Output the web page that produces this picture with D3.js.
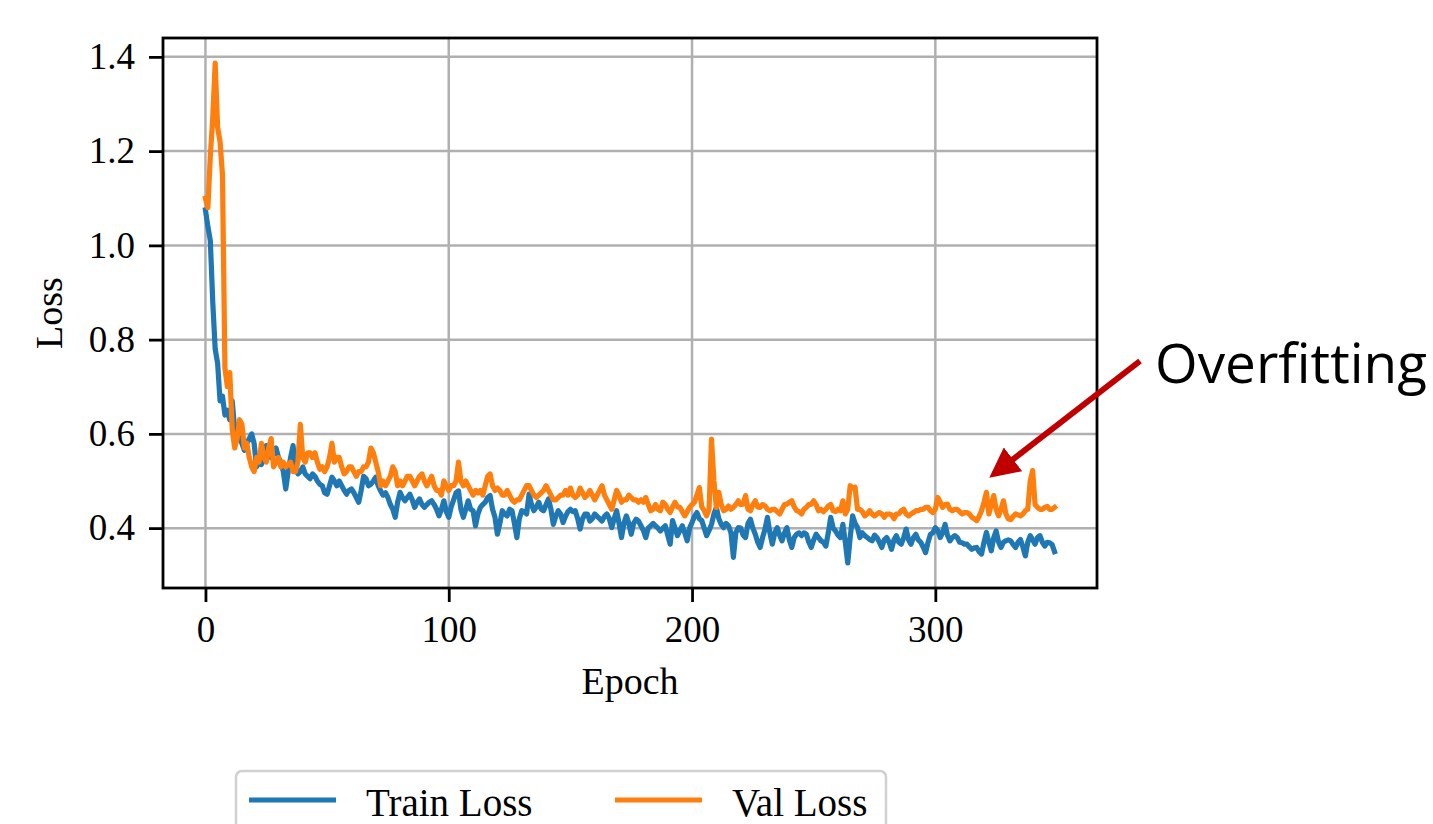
<!DOCTYPE html>
<html>
<head>
<meta charset="utf-8">
<script src="https://cdn.jsdelivr.net/npm/d3@7"></script>
<style>
  body { margin: 0; background: #fff; }
</style>
</head>
<body>
<div id="chart"></div>
<script>
// loss curves, one value per epoch
var trainLoss = [
  1.075, 1.04, 1.01, 0.88, 0.78, 0.75, 0.67, 0.68, 0.64, 0.65,
  0.63, 0.67, 0.61, 0.60, 0.59, 0.58, 0.565, 0.58, 0.59, 0.60,
  0.58, 0.53, 0.54, 0.535, 0.55, 0.575, 0.56, 0.55, 0.56, 0.57,
  0.55, 0.54, 0.52, 0.483, 0.52, 0.55, 0.575, 0.53, 0.515, 0.52,
  0.53, 0.515, 0.51, 0.505, 0.515, 0.51, 0.50, 0.493, 0.49, 0.475,
  0.472, 0.49, 0.508, 0.50, 0.49, 0.50, 0.49, 0.48, 0.472, 0.48,
  0.483, 0.475, 0.465, 0.455, 0.48, 0.51, 0.505, 0.49, 0.493, 0.50,
  0.508, 0.49, 0.479, 0.47, 0.475, 0.465, 0.45, 0.44, 0.423, 0.455,
  0.476, 0.465, 0.458, 0.465, 0.472, 0.46, 0.444, 0.455, 0.462, 0.45,
  0.444, 0.45, 0.455, 0.458, 0.45, 0.44, 0.426, 0.44, 0.458, 0.435,
  0.423, 0.445, 0.46, 0.475, 0.479, 0.44, 0.423, 0.44, 0.458, 0.44,
  0.437, 0.405, 0.43, 0.444, 0.45, 0.455, 0.465, 0.469, 0.44, 0.423,
  0.387, 0.41, 0.437, 0.43, 0.426, 0.44, 0.437, 0.41, 0.38, 0.42,
  0.437, 0.435, 0.43, 0.472, 0.45, 0.437, 0.445, 0.455, 0.44, 0.437,
  0.45, 0.462, 0.44, 0.408, 0.425, 0.437, 0.43, 0.412, 0.425, 0.435,
  0.44, 0.435, 0.437, 0.42, 0.398, 0.42, 0.43, 0.43, 0.415, 0.42,
  0.43, 0.425, 0.42, 0.415, 0.425, 0.43, 0.42, 0.401, 0.42, 0.437,
  0.41, 0.38, 0.41, 0.426, 0.41, 0.387, 0.41, 0.419, 0.415, 0.405,
  0.395, 0.38, 0.40, 0.405, 0.41, 0.405, 0.40, 0.394, 0.40, 0.405,
  0.385, 0.366, 0.416, 0.40, 0.384, 0.395, 0.405, 0.39, 0.373, 0.40,
  0.412, 0.425, 0.433, 0.42, 0.416, 0.40, 0.384, 0.395, 0.408, 0.43,
  0.444, 0.42, 0.408, 0.401, 0.41, 0.405, 0.39, 0.338, 0.39, 0.401,
  0.40, 0.385, 0.38, 0.41, 0.419, 0.40, 0.387, 0.37, 0.359, 0.38,
  0.398, 0.423, 0.39, 0.366, 0.39, 0.401, 0.385, 0.373, 0.39, 0.401,
  0.375, 0.359, 0.38, 0.387, 0.39, 0.384, 0.39, 0.387, 0.37, 0.359,
  0.375, 0.387, 0.38, 0.373, 0.37, 0.362, 0.39, 0.423, 0.40, 0.394,
  0.385, 0.38, 0.408, 0.37, 0.326, 0.38, 0.426, 0.41, 0.401, 0.38,
  0.39, 0.384, 0.38, 0.376, 0.373, 0.385, 0.38, 0.37, 0.359, 0.375,
  0.38, 0.37, 0.355, 0.375, 0.384, 0.37, 0.366, 0.38, 0.398, 0.375,
  0.366, 0.38, 0.387, 0.375, 0.37, 0.36, 0.348, 0.37, 0.387, 0.39,
  0.401, 0.395, 0.38, 0.39, 0.408, 0.385, 0.373, 0.38, 0.384, 0.38,
  0.37, 0.369, 0.366, 0.366, 0.36, 0.355, 0.358, 0.359, 0.35, 0.345,
  0.37, 0.391, 0.37, 0.352, 0.38, 0.394, 0.37, 0.359, 0.37, 0.373,
  0.375, 0.373, 0.365, 0.359, 0.37, 0.376, 0.36, 0.341, 0.37, 0.384,
  0.375, 0.366, 0.38, 0.384, 0.37, 0.362, 0.37, 0.369, 0.365, 0.35
];

var valLoss = [
  1.10, 1.08, 1.19, 1.27, 1.387, 1.25, 1.22, 1.15, 0.74, 0.70,
  0.73, 0.61, 0.57, 0.59, 0.63, 0.62, 0.57, 0.58, 0.55, 0.53,
  0.52, 0.55, 0.54, 0.58, 0.55, 0.54, 0.57, 0.59, 0.53, 0.54,
  0.55, 0.53, 0.54, 0.53, 0.535, 0.54, 0.52, 0.52, 0.54, 0.62,
  0.55, 0.54, 0.56, 0.56, 0.55, 0.56, 0.54, 0.525, 0.53, 0.52,
  0.53, 0.55, 0.58, 0.54, 0.55, 0.55, 0.53, 0.515, 0.52, 0.53,
  0.53, 0.52, 0.51, 0.52, 0.52, 0.53, 0.53, 0.54, 0.57, 0.56,
  0.54, 0.52, 0.49, 0.50, 0.49, 0.50, 0.51, 0.53, 0.52, 0.49,
  0.50, 0.49, 0.50, 0.51, 0.51, 0.50, 0.49, 0.50, 0.51, 0.515,
  0.50, 0.49, 0.50, 0.51, 0.49, 0.48, 0.48, 0.47, 0.50, 0.49,
  0.48, 0.49, 0.49, 0.50, 0.54, 0.50, 0.49, 0.50, 0.49, 0.48,
  0.47, 0.48, 0.475, 0.48, 0.47, 0.49, 0.51, 0.515, 0.49, 0.48,
  0.485, 0.48, 0.47, 0.47, 0.48, 0.47, 0.46, 0.455, 0.46, 0.46,
  0.47, 0.48, 0.49, 0.49, 0.48, 0.47, 0.465, 0.47, 0.475, 0.48,
  0.49, 0.48, 0.47, 0.46, 0.46, 0.465, 0.47, 0.47, 0.48, 0.47,
  0.485, 0.47, 0.465, 0.47, 0.485, 0.475, 0.465, 0.47, 0.48, 0.47,
  0.46, 0.47, 0.48, 0.49, 0.47, 0.46, 0.45, 0.44, 0.46, 0.48,
  0.47, 0.455, 0.46, 0.46, 0.47, 0.465, 0.46, 0.46, 0.455, 0.46,
  0.455, 0.465, 0.45, 0.437, 0.44, 0.45, 0.44, 0.437, 0.455, 0.45,
  0.44, 0.433, 0.445, 0.455, 0.445, 0.444, 0.435, 0.426, 0.435, 0.444,
  0.45, 0.455, 0.47, 0.486, 0.445, 0.437, 0.426, 0.44, 0.589, 0.50,
  0.444, 0.476, 0.45, 0.437, 0.44, 0.447, 0.44, 0.444, 0.45, 0.458,
  0.45, 0.451, 0.469, 0.44, 0.437, 0.45, 0.458, 0.445, 0.444, 0.45,
  0.447, 0.44, 0.437, 0.44, 0.44, 0.435, 0.43, 0.44, 0.45, 0.451,
  0.455, 0.458, 0.445, 0.437, 0.435, 0.43, 0.44, 0.444, 0.45, 0.451,
  0.458, 0.45, 0.437, 0.44, 0.435, 0.44, 0.447, 0.45, 0.437, 0.435,
  0.44, 0.437, 0.458, 0.43, 0.44, 0.49, 0.485, 0.487, 0.44, 0.44,
  0.435, 0.426, 0.43, 0.437, 0.43, 0.426, 0.43, 0.433, 0.43, 0.423,
  0.43, 0.43, 0.428, 0.42, 0.43, 0.43, 0.437, 0.44, 0.43, 0.426,
  0.43, 0.433, 0.437, 0.437, 0.44, 0.44, 0.444, 0.444, 0.437, 0.433,
  0.44, 0.465, 0.455, 0.444, 0.45, 0.451, 0.44, 0.437, 0.44, 0.44,
  0.435, 0.43, 0.433, 0.433, 0.43, 0.423, 0.42, 0.416, 0.425, 0.437,
  0.455, 0.476, 0.43, 0.45, 0.469, 0.44, 0.426, 0.44, 0.458, 0.43,
  0.42, 0.418, 0.425, 0.43, 0.428, 0.426, 0.43, 0.437, 0.44, 0.50,
  0.522, 0.45, 0.444, 0.44, 0.44, 0.444, 0.446, 0.44, 0.44, 0.444
];

var seriesNames = ["Train Loss", "Val Loss"];
var seriesColors = ["#1f77b4", "#ff7f0e"];
var xTicks = [0, 100, 200, 300];
var yTicks = [0.4, 0.6, 0.8, 1.0, 1.2, 1.4];

var width = 1433,
    height = 824,
    plotL = 163, plotR = 1097, plotT = 38, plotB = 588;

var serif = "'Liberation Serif', 'Times New Roman', serif";

var svg = d3.select("#chart").append("svg")
    .attr("width", width)
    .attr("height", height)
    .style("display", "block");

svg.append("rect").attr("width", width).attr("height", height).attr("fill", "#fff");

// matplotlib style 5% margins
var n = trainLoss.length;
var xPad = (n - 1) * 0.05;
var x = d3.scaleLinear()
    .domain([-xPad, n - 1 + xPad])
    .range([plotL, plotR]);

var ext = d3.extent(trainLoss.concat(valLoss));
var yPad = (ext[1] - ext[0]) * 0.05;
var y = d3.scaleLinear()
    .domain([ext[0] - yPad, ext[1] + yPad])
    .range([plotB, plotT]);

// grid
var grid = svg.append("g").attr("class", "grid");
grid.selectAll(".gx").data(xTicks).enter().append("line")
    .attr("x1", function(d){ return x(d); })
    .attr("x2", function(d){ return x(d); })
    .attr("y1", plotT).attr("y2", plotB)
    .attr("stroke", "#b0b0b0").attr("stroke-width", 2.5);
grid.selectAll(".gy").data(yTicks).enter().append("line")
    .attr("x1", plotL).attr("x2", plotR)
    .attr("y1", function(d){ return y(d); })
    .attr("y2", function(d){ return y(d); })
    .attr("stroke", "#b0b0b0").attr("stroke-width", 2.5);

// loss lines
var line = d3.line()
    .x(function(d, i){ return x(i); })
    .y(function(d){ return y(d); });

[trainLoss, valLoss].forEach(function(s, k){
    svg.append("path")
        .datum(s)
        .attr("d", line)
        .attr("fill", "none")
        .attr("stroke", seriesColors[k])
        .attr("stroke-width", 5.2)
        .attr("stroke-linejoin", "round")
        .attr("stroke-linecap", "square");
});

// axes
var xAxis = svg.append("g")
    .attr("transform", "translate(0," + plotB + ")")
    .call(d3.axisBottom(x).tickValues(xTicks).tickSize(14).tickPadding(14).tickSizeOuter(0));
var yAxis = svg.append("g")
    .attr("transform", "translate(" + plotL + ",0)")
    .call(d3.axisLeft(y).tickValues(yTicks).tickFormat(d3.format(".1f")).tickSize(14).tickPadding(14).tickSizeOuter(0));

[xAxis, yAxis].forEach(function(a){
    a.select(".domain").remove();
    a.selectAll(".tick line").attr("stroke", "#000").attr("stroke-width", 2.8);
    a.selectAll(".tick text")
        .attr("fill", "#000")
        .style("font-family", serif)
        .style("font-size", "37px");
});
xAxis.selectAll(".tick text").attr("dy", "0.71em");

// frame
svg.append("rect")
    .attr("x", plotL).attr("y", plotT)
    .attr("width", plotR - plotL).attr("height", plotB - plotT)
    .attr("fill", "none").attr("stroke", "#000").attr("stroke-width", 2.8);

// axis labels
svg.append("text")
    .attr("x", (plotL + plotR) / 2).attr("y", 694)
    .attr("text-anchor", "middle")
    .style("font-family", serif).style("font-size", "38px")
    .text("Epoch");
svg.append("text")
    .attr("transform", "translate(62," + (plotT + plotB) / 2 + ") rotate(-90)")
    .attr("text-anchor", "middle")
    .style("font-family", serif).style("font-size", "38px")
    .text("Loss");

// legend (cut off at the bottom like the reference)
var legend = svg.append("g");
legend.append("rect")
    .attr("x", 236).attr("y", 771)
    .attr("width", 650).attr("height", 90)
    .attr("rx", 6)
    .attr("fill", "#fff").attr("stroke", "#d0d0d0").attr("stroke-width", 2.5);
var legX = [249, 615];
seriesNames.forEach(function(name, k){
    legend.append("line")
        .attr("x1", legX[k]).attr("x2", legX[k] + 87)
        .attr("y1", 800).attr("y2", 800)
        .attr("stroke", seriesColors[k]).attr("stroke-width", 5.2);
    legend.append("text")
        .attr("x", legX[k] + 117).attr("y", 816)
        .style("font-family", serif).style("font-size", "39px")
        .text(name);
});

// annotation
var defs = svg.append("defs");
defs.append("marker")
    .attr("id", "head")
    .attr("viewBox", "0 0 10 10")
    .attr("refX", 8).attr("refY", 5)
    .attr("markerWidth", 5).attr("markerHeight", 5)
    .attr("markerUnits", "strokeWidth")
    .attr("orient", "auto")
    .append("path")
    .attr("d", "M0,0 L10,5 L0,10 Z")
    .attr("fill", "#c00000");

svg.append("line")
    .attr("x1", 1140).attr("y1", 361)
    .attr("x2", 994).attr("y2", 474)
    .attr("stroke", "#c00000").attr("stroke-width", 6)
    .attr("marker-end", "url(#head)");

svg.append("text")
    .attr("x", 1155).attr("y", 383)
    .attr("textLength", 272).attr("lengthAdjust", "spacingAndGlyphs")
    .style("font-family", "'Open Sans', 'Noto Sans', sans-serif")
    .style("font-size", "55px")
    .text("Overfitting");
</script>
</body>
</html>
